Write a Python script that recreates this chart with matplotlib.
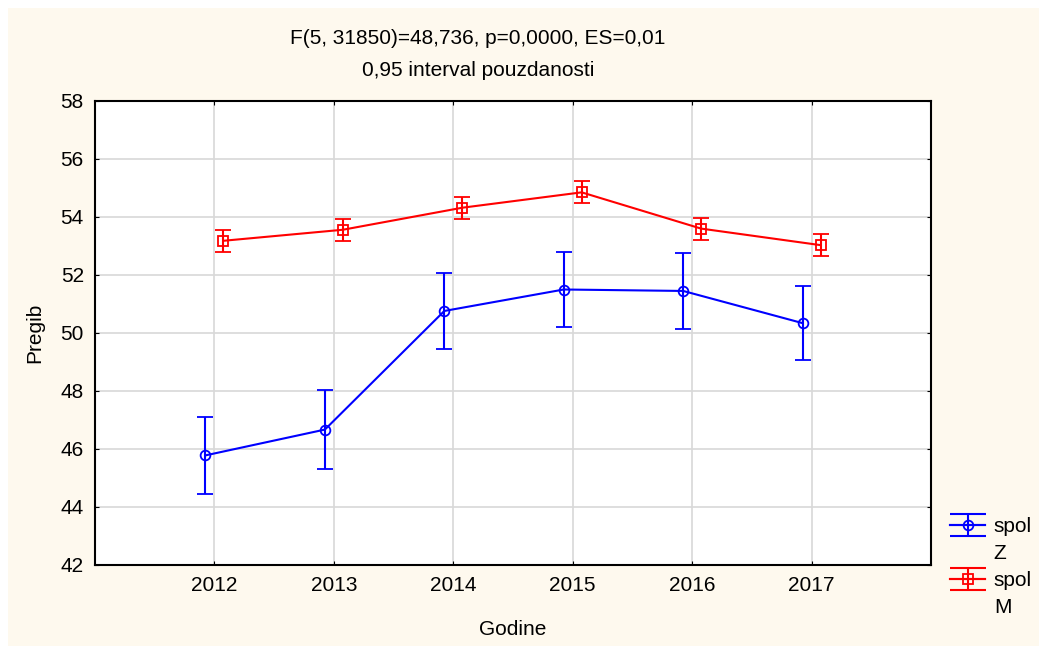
import matplotlib.pyplot as plt
import numpy as np
from matplotlib.patches import Rectangle
from matplotlib.lines import Line2D
from matplotlib.path import Path

plt.rcParams['font.family'] = ['Liberation Sans', 'DejaVu Sans']

years = [2012, 2013, 2014, 2015, 2016, 2017]
z_mean = [45.78, 46.67, 50.76, 51.50, 51.45, 50.34]
z_err = [1.32, 1.35, 1.30, 1.30, 1.30, 1.27]
m_mean = [53.18, 53.56, 54.32, 54.85, 53.60, 53.03]
m_err = [0.38, 0.38, 0.38, 0.38, 0.38, 0.38]

title1 = 'F(5, 31850)=48,736, p=0,0000, ES=0,01'
title2 = '0,95 interval pouzdanosti'

cream = '#fef9ee'
fs = 15
blue = '#0000ff'
red = '#ff0000'

fig = plt.figure(figsize=(10.39, 6.46), dpi=100)
fig.patch.set_facecolor('white')
fig.patches.append(Rectangle((8 / 1039, 0), 1 - 8 / 1039, 1 - 8 / 646,
                             transform=fig.transFigure, facecolor=cream,
                             edgecolor='none', zorder=-10))

ax = fig.add_axes([95 / 1039, 1 - 565 / 646, (931 - 95) / 1039, (565 - 101) / 646])
ax.set_facecolor('white')

x = np.array(years, dtype=float)
off = 0.075
ax.errorbar(x - off, z_mean, yerr=z_err, color=blue, lw=1.5, marker='o',
            ms=7, mfc='none', mec=blue, mew=1.3, capsize=6, capthick=1.5,
            elinewidth=1.5, zorder=3)
ax.errorbar(x + off, m_mean, yerr=m_err, color=red, lw=1.5, marker='s',
            ms=7, mfc='none', mec=red, mew=1.3, capsize=6, capthick=1.5,
            elinewidth=1.5, zorder=3)

ax.set_xlim(2011, 2018)
ax.set_ylim(42, 58)
ax.set_xticks(years)
ax.set_yticks(np.arange(42, 59, 2))
ax.grid(True, color='#d8d8d8', lw=1.2, zorder=0)
ax.set_axisbelow(True)
ax.tick_params(direction='in', length=3, top=True, right=True, labelsize=fs,
               pad=8)
for s in ax.spines.values():
    s.set_linewidth(1.5)
    s.set_color('black')

ax.set_xlabel('Godine', fontsize=fs, labelpad=18)
ax.set_ylabel('Pregib', fontsize=fs, labelpad=12)

fig.text(478 / 1039, 1 - 38 / 646, title1, ha='center', va='center', fontsize=fs)
fig.text(478 / 1039, 1 - 70 / 646, title2, ha='center', va='center', fontsize=fs)

# legend symbol: wide caps + vertical bar, like the original
cap_path = Path([(-1, 0.6), (1, 0.6), (-1, -0.6), (1, -0.6), (0, 0.6), (0, -0.6)],
                [Path.MOVETO, Path.LINETO, Path.MOVETO, Path.LINETO,
                 Path.MOVETO, Path.LINETO])


def leg_handle(color, mk):
    caps = Line2D([], [], color=color, lw=1.5, marker=cap_path, ms=26,
                  mew=1.5, mec=color)
    pt = Line2D([], [], color=color, lw=1.5, marker=mk, ms=7, mfc='none',
                mec=color, mew=1.3)
    return (caps, pt)


blank = Line2D([], [], linestyle='none')
handles = [leg_handle(blue, 'o'), blank, leg_handle(red, 's'), blank]
labels = ['spol', 'Z', 'spol', 'M']
leg = ax.legend(handles, labels, loc='upper left',
                bbox_to_anchor=(950 / 1039, 1 - 517 / 646),
                bbox_transform=fig.transFigure, frameon=False, fontsize=fs,
                handlelength=1.7, handletextpad=0.4, labelspacing=0.38,
                borderaxespad=0, borderpad=0, numpoints=1)

fig.savefig('out.png', dpi=100, facecolor=fig.get_facecolor())
